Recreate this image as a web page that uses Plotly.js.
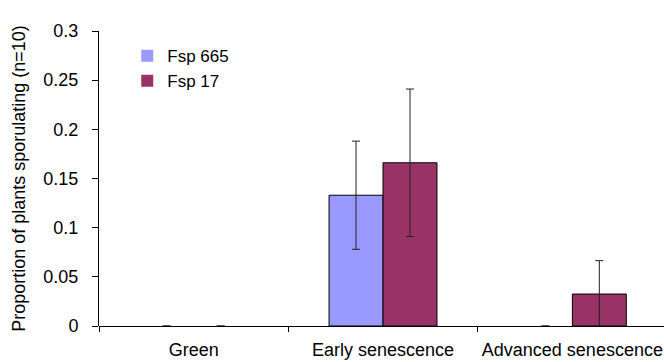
<!DOCTYPE html>
<html>
<head>
<meta charset="utf-8">
<script src="https://cdn.plot.ly/plotly-3.0.1.min.js"></script>
<style>html,body{margin:0;padding:0;background:#fff;}#chart{width:664px;height:362px;}</style>
</head>
<body>
<div id="chart"></div>
<script>
const categories = ["Green", "Early senescence", "Advanced senescence"];
const seriesNames = ["Fsp 665", "Fsp 17"];
const fsp665 = [0, 0.133, 0];
const fsp17 = [0, 0.166, 0.0325];
const fsp665Err = [0, 0.055, 0];
const fsp17Err = [0, 0.075, 0.034];
const yTicks = [0, 0.05, 0.1, 0.15, 0.2, 0.25, 0.3];
const yTickLabels = ["0", "0.05", "0.1", "0.15", "0.2", "0.25", "0.3"];

const font = {family: "Liberation Sans, Arial, sans-serif", size: 18, color: "#000"};
const legendFont = {family: "Liberation Sans, Arial, sans-serif", size: 17, color: "#000"};
const outline = v => v.map(d => (d > 0 ? 1 : 0));

const traces = [
  {type: "bar", name: seriesNames[0], x: categories, y: fsp665,
   marker: {color: "#9999FF", line: {color: "#000", width: outline(fsp665)}},
   error_y: {type: "data", array: fsp665Err, visible: true, color: "#222", thickness: 1, width: 4}},
  {type: "bar", name: seriesNames[1], x: categories, y: fsp17,
   marker: {color: "#993366", line: {color: "#000", width: outline(fsp17)}},
   error_y: {type: "data", array: fsp17Err, visible: true, color: "#222", thickness: 1, width: 4}}
];

const layout = {
  width: 664, height: 362,
  margin: {l: 99, r: 0, t: 31, b: 36, pad: 0},
  paper_bgcolor: "#fff", plot_bgcolor: "#fff",
  font: font,
  barmode: "group", bargap: 0.43, bargroupgap: 0,
  showlegend: true,
  legend: {x: 0.05, y: 0.976, xanchor: "left", yanchor: "top", bgcolor: "rgba(0,0,0,0)",
           font: legendFont, tracegroupgap: 0},
  xaxis: {type: "category", range: [-0.5, 2.484], showgrid: false, zeroline: false, showline: false,
          ticks: "outside", tickson: "boundaries", ticklen: 5, tickcolor: "#000",
          tickfont: font, ticklabelstandoff: 11, fixedrange: true},
  yaxis: {range: [0, 0.3], tickvals: yTicks, ticktext: yTickLabels, showgrid: false,
          zeroline: true, zerolinecolor: "#000", zerolinewidth: 1,
          showline: true, linecolor: "#000", linewidth: 1,
          ticks: "outside", ticklen: 6, tickcolor: "#000", tickfont: font, ticklabelstandoff: 10,
          title: {text: "Proportion of plants sporulating (n=10)", font: font, standoff: 13}}
};

Plotly.newPlot("chart", traces, layout, {displayModeBar: false, staticPlot: true});
</script>
</body>
</html>
